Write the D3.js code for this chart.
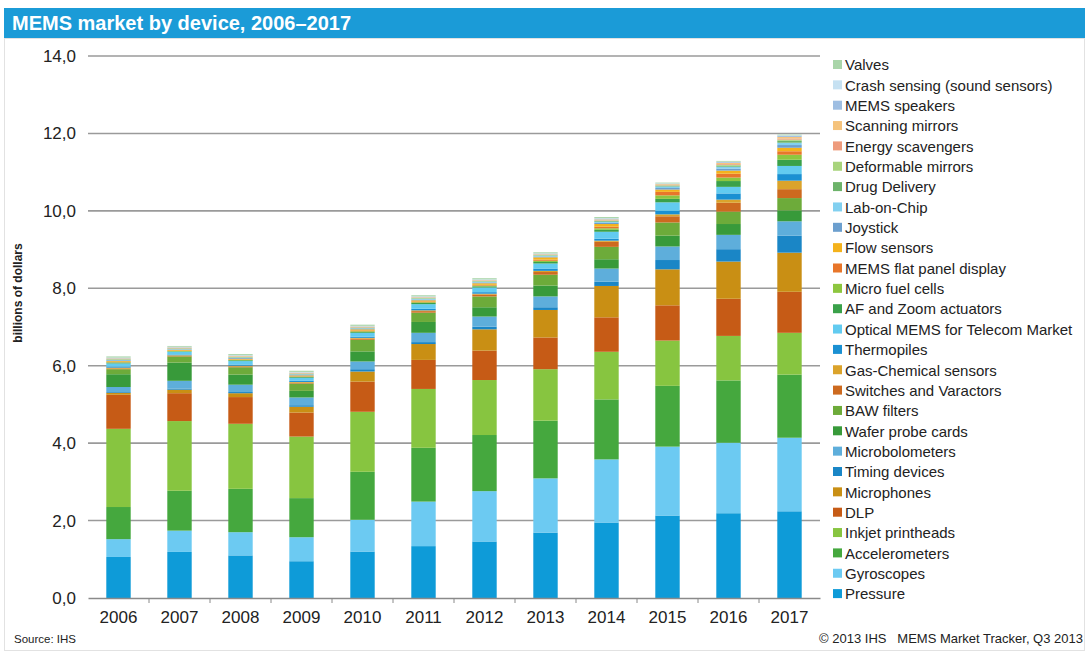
<!DOCTYPE html>
<html>
<head>
<meta charset="utf-8">
<script src="https://cdn.jsdelivr.net/npm/d3@7/dist/d3.min.js"></script>
<style>
  html, body { margin: 0; padding: 0; background: #fff; }
  svg { display: block; font-family: "Liberation Sans", Arial, sans-serif; }
</style>
</head>
<body>
<svg id="chart" width="1085" height="652"></svg>
<script>
// Years on the x axis
const years = ["2006","2007","2008","2009","2010","2011","2012","2013","2014","2015","2016","2017"];

// Device categories, bottom of stack first
const devices = [
  "Pressure","Gyroscopes","Accelerometers","Inkjet printheads","DLP","Microphones",
  "Timing devices","Microbolometers","Wafer probe cards","BAW filters",
  "Switches and Varactors","Gas-Chemical sensors","Thermopiles",
  "Optical MEMS for Telecom Market","AF and Zoom actuators","Micro fuel cells",
  "MEMS flat panel display","Flow sensors","Joystick","Lab-on-Chip","Drug Delivery",
  "Deformable mirrors","Energy scavengers","Scanning mirrors","MEMS speakers",
  "Crash sensing (sound sensors)","Valves"
];

// Revenue per device, billions of dollars, 2006–2017
const pressure        = [1.06,1.19,1.10,0.95,1.20,1.34,1.46,1.69,1.95,2.13,2.19,2.24];
const gyroscopes      = [0.46,0.55,0.60,0.62,0.82,1.15,1.30,1.40,1.63,1.78,1.82,1.90];
const accelerometers  = [0.83,1.03,1.12,1.01,1.24,1.39,1.45,1.49,1.55,1.57,1.61,1.63];
const inkjet          = [2.02,1.80,1.68,1.59,1.55,1.52,1.42,1.33,1.23,1.17,1.15,1.08];
const dlp             = [0.88,0.72,0.69,0.62,0.78,0.75,0.76,0.82,0.89,0.91,0.96,1.06];
const microphones     = [0.05,0.09,0.10,0.15,0.26,0.41,0.55,0.71,0.81,0.93,0.96,1.01];
const timing          = [0.02,0.03,0.03,0.04,0.06,0.05,0.07,0.07,0.11,0.24,0.32,0.44];
const microbolometers = [0.13,0.20,0.19,0.20,0.20,0.24,0.26,0.28,0.34,0.35,0.37,0.37];
const waferProbe      = [0.33,0.47,0.26,0.17,0.26,0.28,0.24,0.28,0.24,0.28,0.28,0.28];
const baw             = [0.13,0.16,0.19,0.19,0.30,0.24,0.28,0.28,0.32,0.34,0.32,0.32];
const switches        = [0.02,0.02,0.02,0.02,0.03,0.04,0.05,0.07,0.13,0.16,0.23,0.23];
const gasChemical     = [0.02,0.01,0.02,0.02,0.02,0.02,0.02,0.03,0.03,0.05,0.08,0.22];
const thermopiles     = [0.03,0.02,0.03,0.03,0.03,0.04,0.04,0.06,0.05,0.09,0.16,0.17];
const opticalTelecom  = [0.08,0.07,0.09,0.08,0.10,0.12,0.12,0.13,0.18,0.22,0.17,0.21];
const afZoom          = [0.02,0.01,0.02,0.02,0.02,0.03,0.03,0.04,0.05,0.09,0.15,0.16];
const microFuel       = [0.01,0.01,0.01,0.01,0.02,0.02,0.02,0.03,0.04,0.09,0.09,0.13];
const flatPanel       = [0.01,0.01,0.01,0.01,0.02,0.02,0.02,0.03,0.04,0.09,0.10,0.09];
const flowSensors     = [0.02,0.02,0.02,0.02,0.03,0.03,0.04,0.06,0.07,0.06,0.08,0.09];
const joystick        = [0.02,0.01,0.02,0.02,0.02,0.02,0.02,0.02,0.03,0.04,0.05,0.07];
const labOnChip       = [0.01,0.01,0.01,0.01,0.01,0.02,0.02,0.02,0.03,0.04,0.05,0.06];
const drugDelivery    = [0.01,0.01,0.01,0.01,0.01,0.01,0.01,0.01,0.02,0.02,0.03,0.05];
const deformable      = [0.01,0.01,0.01,0.01,0.01,0.01,0.01,0.01,0.01,0.01,0.02,0.03];
const energyScav      = [0.01,0.01,0.01,0.01,0.01,0.01,0.01,0.01,0.01,0.01,0.02,0.03];
const scanningMirrors = [0.01,0.01,0.01,0.01,0.01,0.01,0.01,0.01,0.02,0.02,0.03,0.04];
const speakers        = [0.01,0.01,0.01,0.01,0.01,0.01,0.01,0.01,0.02,0.01,0.02,0.03];
const crashSensing    = [0.01,0.01,0.01,0.01,0.01,0.01,0.01,0.01,0.01,0.01,0.01,0.01];
const valves          = [0.03,0.02,0.03,0.03,0.03,0.03,0.03,0.03,0.03,0.02,0.02,0.02];

const seriesValues = [
  pressure, gyroscopes, accelerometers, inkjet, dlp, microphones, timing,
  microbolometers, waferProbe, baw, switches, gasChemical, thermopiles,
  opticalTelecom, afZoom, microFuel, flatPanel, flowSensors, joystick, labOnChip,
  drugDelivery, deformable, energyScav, scanningMirrors, speakers, crashSensing, valves
];

const colors = [
  "#0e9bd8","#6ccaf2","#45a83e","#87c540","#c65b16","#c98f14",
  "#1a86c6","#5eaedb","#389a3a","#6dab3a",
  "#cd6a1f","#dba32b","#1a90d2",
  "#62cbf0","#3aa14a","#8dc63f",
  "#e8762a","#f4b21c","#6c9fce","#82d0f0","#6db36a",
  "#a8d47c","#ee9b7c","#f5c37c","#9ebee2",
  "#c6e1f2","#a9d5a9"
];

const yTicks = [0,2,4,6,8,10,12,14];

// Build a row-per-year table for the stack layout
const table = years.map((yr, i) => {
  const row = { year: yr };
  devices.forEach((d, k) => { row[d] = seriesValues[k][i]; });
  return row;
});

const svg = d3.select("#chart");
const W = 1085, H = 652;

// Title banner
svg.append("rect").attr("x", 4).attr("y", 8).attr("width", W - 4).attr("height", 30).attr("fill", "#1b9bd7");
svg.append("text").attr("x", 12).attr("y", 30)
  .attr("fill", "#fff").attr("font-weight", "bold").attr("font-size", 20)
  .text("MEMS market by device, 2006\u20132017");

// Light frame around the panel
svg.append("rect").attr("x", 4.5).attr("y", 38.5).attr("width", W - 5).attr("height", H - 40)
  .attr("fill", "none").attr("stroke", "#e2e2e2");

const plot = { left: 88, right: 820, top: 56, bottom: 598 };

const x = d3.scaleBand().domain(years).range([plot.left, plot.right]).paddingInner(0.6).paddingOuter(0.3);
const xOuter = d3.scaleBand().domain(years).range([plot.left, plot.right]);
const y = d3.scaleLinear().domain([0, 14]).range([plot.bottom, plot.top]);

// Horizontal gridlines
svg.append("g").selectAll("line").data(yTicks.filter(t => t > 0)).join("line")
  .attr("x1", plot.left).attr("x2", plot.right)
  .attr("y1", d => y(d)).attr("y2", d => y(d))
  .attr("stroke", "#9a9a9a").attr("stroke-width", 1.6);

// Stacked bars
const stack = d3.stack().keys(devices)(table);
svg.append("g").selectAll("g").data(stack).join("g")
  .attr("fill", (d, i) => colors[i])
  .selectAll("rect").data(d => d).join("rect")
  .attr("x", d => x(d.data.year))
  .attr("width", x.bandwidth())
  .attr("y", d => y(d[1]))
  .attr("height", d => Math.max(0, y(d[0]) - y(d[1])));

// Y axis labels
const yAxis = d3.axisLeft(y).tickValues(yTicks)
  .tickFormat(d => d3.format(".1f")(d).replace(".", ","))
  .tickSize(0).tickPadding(12);
const gy = svg.append("g").attr("transform", `translate(${plot.left},0)`).call(yAxis);
gy.select(".domain").remove();
gy.selectAll("text").attr("font-size", 17).attr("fill", "#222")
  .attr("font-family", "'Liberation Sans', Arial, sans-serif");

// X axis baseline with category separators
const xAxis = d3.axisBottom(xOuter).tickSize(0).tickPadding(11);
const gx = svg.append("g").attr("transform", `translate(0,${plot.bottom})`).call(xAxis);
gx.select(".domain").attr("stroke", "#8a8a8a").attr("stroke-width", 1.6);
gx.selectAll("text").attr("font-size", 17).attr("fill", "#222").attr("dy", "0.8em")
  .attr("font-family", "'Liberation Sans', Arial, sans-serif");
svg.append("g").selectAll("line").data(years.slice(1)).join("line")
  .attr("x1", d => xOuter(d)).attr("x2", d => xOuter(d))
  .attr("y1", plot.bottom).attr("y2", plot.bottom + 5)
  .attr("stroke", "#8a8a8a").attr("stroke-width", 1);

// Y axis title
svg.append("text")
  .attr("transform", "translate(22,293) rotate(-90)")
  .attr("text-anchor", "middle").attr("font-size", 12).attr("font-weight", "bold").attr("fill", "#222")
  .text("billions of dollars");

// Legend, top entry is the top of the stack
const legendOrder = devices.map((d, i) => ({ name: d, color: colors[i] })).reverse();
const lg = svg.append("g").selectAll("g").data(legendOrder).join("g")
  .attr("transform", (d, i) => `translate(833,${65 + i * 20.35})`);
lg.append("rect").attr("x", 0).attr("y", -5).attr("width", 9).attr("height", 9).attr("fill", d => d.color);
lg.append("text").attr("x", 12).attr("y", 0).attr("dy", "0.35em")
  .attr("font-size", 15).attr("fill", "#222").text(d => d.name);

// Footer notes
svg.append("text").attr("x", 14).attr("y", 643).attr("font-size", 11.5).attr("fill", "#222").text("Source: IHS");
svg.append("text").attr("x", 1083).attr("y", 643).attr("text-anchor", "end")
  .attr("font-size", 13).attr("fill", "#222")
  .attr("xml:space", "preserve")
  .text("\u00A9 2013 IHS\u00A0\u00A0\u00A0MEMS Market Tracker, Q3 2013");
</script>
</body>
</html>
